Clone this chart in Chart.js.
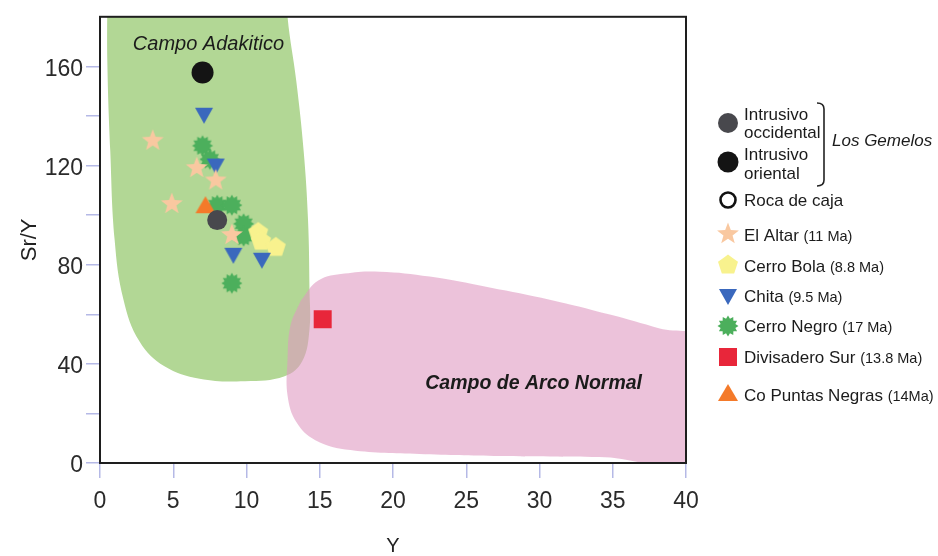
<!DOCTYPE html>
<html lang="es">
<head>
<meta charset="UTF-8">
<title>Sr/Y vs Y - Los Gemelos</title>
<script src="https://cdn.jsdelivr.net/npm/chart.js@4.4.1/dist/chart.umd.min.js"></script>
<style>
    html, body { margin: 0; padding: 0; background: #fff; }
    #wrap { width: 938px; height: 556px; }
</style>
</head>
<body>
<div id="wrap"><canvas id="chart" width="938" height="556"></canvas></div>
<script>
// campo adakitico (outline, data units)
const adakiticoX = [0.5, 12.8, 12.8, 13.4, 13.9, 14.2, 14.3, 14.3, 13.8, 12.6, 9.9, 6.8, 4.4, 2.7, 1.6, 1.0, 0.7, 0.5, 0.5];
const adakiticoY = [190, 190, 180, 154, 126, 98, 70, 54, 41, 35, 33, 34, 39, 49, 66, 90, 126, 162, 190];
// campo de arco normal (outline)
const arcoX = [13.7, 14.9, 16.7, 19.1, 22.5, 26.6, 30.7, 34.8, 38.2, 41, 41, 34.1, 27.3, 21.8, 17.1, 14.7, 13.4, 12.8, 12.8, 13.0, 13.7];
const arcoY = [65.5, 73.6, 76.4, 77.2, 75.2, 70.8, 65.9, 59.9, 54.3, 49.5, 2, 2.4, 2.8, 3.6, 5.2, 9.2, 16.5, 27.3, 41.4, 55.5, 65.5];

// samples [Y, Sr/Y]
const intrusivoOccidental = [[8.0, 98]];
const intrusivoOriental = [[7.0, 157.5]];
const elAltar = [[3.6, 130], [6.6, 119], [7.9, 114], [4.9, 104.5], [9.0, 92]];
const cerroBola = [[10.8, 93], [11.0, 89.5], [12.0, 87]];
const chita = [[7.1, 140.5], [7.9, 120], [9.1, 84], [11.05, 82]];
const cerroNegro = [[7.0, 128], [7.5, 122.5], [8.0, 104], [9.0, 104], [9.8, 96.5], [9.8, 91.5], [9.0, 72.5]];
const divisaderoSur = [[15.2, 58]];
const coPuntasNegras = [[7.2, 104]];

const xTicks = [0, 5, 10, 15, 20, 25, 30, 35, 40];
const yTicks = [0, 20, 40, 60, 80, 100, 120, 140, 160];
const yLabelEvery = 40;

const FONT = "'Liberation Sans', Arial, Helvetica, sans-serif";

function toPts(arr) { return arr.map(p => ({x: p[0], y: p[1]})); }
function zipPts(xs, ys) { return xs.map((x, i) => ({x: x, y: ys[i]})); }

// marker images
function marker(size, draw) {
    const c = document.createElement('canvas');
    c.width = size; c.height = size;
    const g = c.getContext('2d');
    g.translate(size / 2, size / 2);
    draw(g);
    return c;
}
function starPath(g, n, outer, inner, rot) {
    g.beginPath();
    for (let i = 0; i < n * 2; i++) {
        const r = i % 2 ? inner : outer;
        const a = rot + i * Math.PI / n;
        g.lineTo(Math.cos(a) * r, Math.sin(a) * r);
    }
    g.closePath();
}
const starImg = marker(24, g => { starPath(g, 5, 11.5, 4.8, -Math.PI / 2); g.fillStyle = '#f9c8a0'; g.fill(); });
const pentaImg = marker(24, g => { starPath(g, 5, 10.5, 10.5 * Math.cos(Math.PI / 5), -Math.PI / 2); g.fillStyle = '#f8f28e'; g.fill(); });
const burstImg = marker(24, g => { starPath(g, 12, 10.5, 7.6, -Math.PI / 2); g.fillStyle = '#4caf5c'; g.fill(); });
const downTriImg = marker(22, g => {
    g.beginPath(); g.moveTo(-9, -7); g.lineTo(9, -7); g.lineTo(0, 9); g.closePath();
    g.fillStyle = '#3a68bd'; g.fill();
});
const upTriImg = marker(24, g => {
    g.beginPath(); g.moveTo(-10, 8); g.lineTo(10, 8); g.lineTo(0, -9); g.closePath();
    g.fillStyle = '#f47a2a'; g.fill();
});
const squareImg = marker(20, g => { g.fillStyle = '#e8263a'; g.fillRect(-9, -9, 18, 18); });

function pointSet(label, arr, style, extra) {
    return Object.assign({
        label: label,
        data: toPts(arr),
        pointStyle: style,
        pointRadius: 10,
        borderWidth: 0,
        order: 0
    }, extra || {});
}

const datasets = [
    pointSet('Intrusivo occidental', intrusivoOccidental, 'circle', {pointRadius: 10, backgroundColor: '#48484d'}),
    pointSet('Intrusivo oriental', intrusivoOriental, 'circle', {pointRadius: 11, backgroundColor: '#141414'}),
    pointSet('El Altar', elAltar, starImg),
    pointSet('Chita', chita, downTriImg),
    pointSet('Cerro Bola', cerroBola, pentaImg),
    pointSet('Co Puntas Negras', coPuntasNegras, upTriImg),
    pointSet('Cerro Negro', cerroNegro, burstImg),
    pointSet('Divisadero Sur', divisaderoSur, squareImg),
    {
        label: 'Campo de Arco Normal',
        data: zipPts(arcoX, arcoY),
        showLine: true, fill: 'shape', tension: 0.4, capBezierPoints: false,
        backgroundColor: 'rgba(223,153,193,0.6)', borderWidth: 0, pointRadius: 0,
        order: 1
    },
    {
        label: 'Campo Adakitico',
        data: zipPts(adakiticoX, adakiticoY),
        showLine: true, fill: 'shape', tension: 0.4, capBezierPoints: false,
        backgroundColor: '#b2d795', borderWidth: 0, pointRadius: 0,
        order: 2
    }
];

// labels inside the fields
const fieldLabels = [
    {text: 'Campo Adakitico', x: 7.4, y: 169, font: 'italic 20px ' + FONT},
    {text: 'Campo de Arco Normal', x: 29.6, y: 32, font: 'italic bold 19.5px ' + FONT}
];

const fieldLabelPlugin = {
    id: 'fieldLabels',
    afterDatasetsDraw(chart) {
        const ctx = chart.ctx, xs = chart.scales.x, ys = chart.scales.y;
        ctx.save();
        ctx.fillStyle = '#1b1b1b';
        ctx.textAlign = 'center';
        ctx.textBaseline = 'middle';
        fieldLabels.forEach(l => {
            ctx.font = l.font;
            ctx.fillText(l.text, xs.getPixelForValue(l.x), ys.getPixelForValue(l.y));
        });
        // frame
        const a = chart.chartArea;
        ctx.strokeStyle = '#1e1e1e';
        ctx.lineWidth = 2;
        ctx.strokeRect(a.left, a.top, a.right - a.left, a.bottom - a.top);
        ctx.restore();
    }
};

// legend on the right
const legendItems = [
    {icon: 'gray', y: 123, text: ['Intrusivo', 'occidental'], ty: [115, 133]},
    {icon: 'black', y: 162, text: ['Intrusivo', 'oriental'], ty: [155, 174]},
    {icon: 'open', y: 200, text: ['Roca de caja'], ty: [201]},
    {icon: starImg, y: 234, text: ['El Altar'], small: '(11 Ma)', ty: [236]},
    {icon: pentaImg, y: 265, text: ['Cerro Bola'], small: '(8.8 Ma)', ty: [267]},
    {icon: downTriImg, y: 296, text: ['Chita'], small: '(9.5 Ma)', ty: [297]},
    {icon: burstImg, y: 326, text: ['Cerro Negro'], small: '(17 Ma)', ty: [327]},
    {icon: squareImg, y: 357, text: ['Divisadero Sur'], small: '(13.8 Ma)', ty: [358]},
    {icon: upTriImg, y: 393, text: ['Co Puntas Negras'], small: '(14Ma)', ty: [396]}
];

const legendPlugin = {
    id: 'sideLegend',
    afterDraw(chart) {
        const ctx = chart.ctx;
        const ix = 728, tx = 744;
        ctx.save();
        ctx.textBaseline = 'middle';
        ctx.textAlign = 'left';
        legendItems.forEach(it => {
            if (it.icon === 'gray' || it.icon === 'black') {
                ctx.beginPath();
                ctx.arc(ix, it.y, it.icon === 'gray' ? 10 : 10.5, 0, Math.PI * 2);
                ctx.fillStyle = it.icon === 'gray' ? '#48484d' : '#141414';
                ctx.fill();
            } else if (it.icon === 'open') {
                ctx.beginPath();
                ctx.arc(ix, it.y, 7.5, 0, Math.PI * 2);
                ctx.strokeStyle = '#111';
                ctx.lineWidth = 2.6;
                ctx.stroke();
            } else {
                ctx.drawImage(it.icon, ix - it.icon.width / 2, it.y - it.icon.height / 2);
            }
            ctx.fillStyle = '#1b1b1b';
            it.text.forEach((t, i) => {
                ctx.font = '17px ' + FONT;
                ctx.fillText(t, tx, it.ty[i]);
                if (it.small && i === it.text.length - 1) {
                    const w = ctx.measureText(t + ' ').width;
                    ctx.font = '14.5px ' + FONT;
                    ctx.fillText(it.small, tx + w, it.ty[i] + 1);
                }
            });
        });
        // bracket for Los Gemelos
        ctx.strokeStyle = '#222';
        ctx.lineWidth = 1.6;
        ctx.beginPath();
        ctx.moveTo(817, 103);
        ctx.quadraticCurveTo(824, 103, 824, 109);
        ctx.lineTo(824, 180);
        ctx.quadraticCurveTo(824, 186, 817, 186);
        ctx.stroke();
        ctx.font = 'italic 17px ' + FONT;
        ctx.fillText('Los Gemelos', 832, 141);
        ctx.restore();
    }
};

new Chart(document.getElementById('chart'), {
    type: 'scatter',
    data: {datasets: datasets},
    plugins: [fieldLabelPlugin, legendPlugin],
    options: {
        responsive: false,
        animation: false,
        events: [],
        layout: {padding: {left: 0, top: 15, right: 252, bottom: 0}},
        plugins: {legend: {display: false}, tooltip: {enabled: false}},
        scales: {
            x: {
                type: 'linear', min: 0, max: 40,
                afterBuildTicks: s => { s.ticks = xTicks.map(v => ({value: v})); },
                afterFit: s => { s.height = 93; },
                ticks: {font: {family: FONT, size: 23}, color: '#2a2a2a', padding: 10, maxRotation: 0},
                grid: {drawOnChartArea: false, drawTicks: true, tickLength: 15, color: '#b5b9e6', lineWidth: 1.5},
                border: {display: false},
                title: {display: true, text: 'Y', font: {family: FONT, size: 20, lineHeight: 1}, color: '#222', padding: {top: 0, bottom: 0}}
            },
            y: {
                type: 'linear', min: 0, max: 180,
                afterBuildTicks: s => { s.ticks = yTicks.map(v => ({value: v})); },
                afterFit: s => { s.width = 100; },
                ticks: {
                    font: {family: FONT, size: 23}, color: '#2a2a2a', padding: 3, labelOffset: 3,
                    callback: v => (v % yLabelEvery === 0 ? v : '')
                },
                grid: {drawOnChartArea: false, drawTicks: true, tickLength: 14, color: '#b5b9e6', lineWidth: 1.5},
                border: {display: false},
                title: {display: true, text: 'Sr/Y', font: {family: FONT, size: 22, lineHeight: 1.2}, color: '#222', padding: {top: 17, bottom: 0}}
            }
        }
    }
});
</script>
</body>
</html>
